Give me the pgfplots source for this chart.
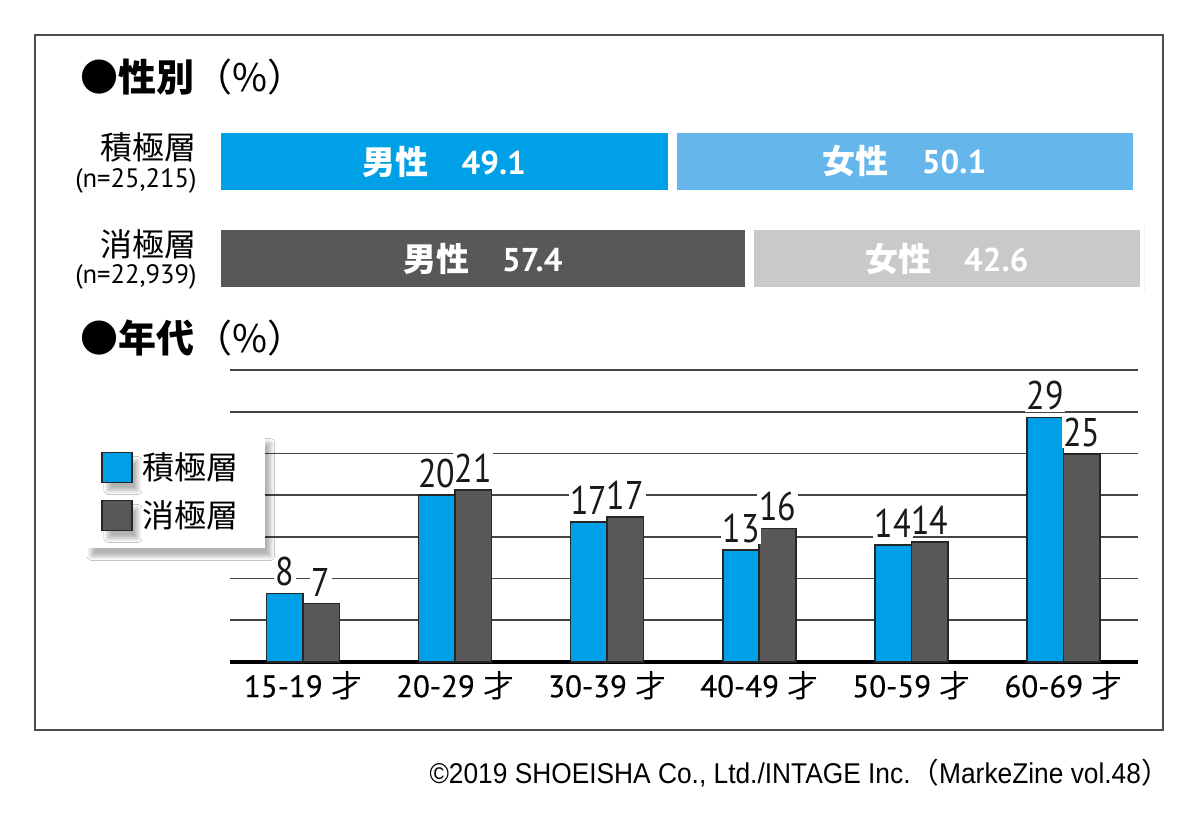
\documentclass[border=0pt]{standalone}
\usepackage{pgfplots}
\pgfplotsset{compat=1.18}
\usepackage{fontspec}
\usetikzlibrary{shadows.blur}
\setmainfont{PT Sans}
\newfontfamily\cjk{Noto Sans CJK JP}
\newfontfamily\cond[FakeStretch=0.85]{PT Sans}
\newfontfamily\tickf[FakeBold=0.4]{PT Sans}
\newfontfamily\credit[FakeStretch=0.92]{Liberation Sans}

\definecolor{cblue}{HTML}{00A0E6}
\definecolor{cltblue}{HTML}{64B6EB}
\definecolor{cdark}{HTML}{595757}
\definecolor{cltgray}{HTML}{C9C9C9}
\definecolor{cgrid}{HTML}{444444}

\begin{document}
\begin{tikzpicture}[x=1pt,y=1pt]
\path[use as bounding box, fill=white] (0,0) rectangle (600,410);
\draw[draw=black!70, line width=1pt] (17.5,45) rectangle (581.5,392.5);

% titles
\node[anchor=west, inner sep=0pt] at (40,371.5) {\cjk\fontsize{19pt}{19pt}\selectfont\bfseries ●性別\mdseries（\%）};
\node[anchor=west, inner sep=0pt] at (40,241) {\cjk\fontsize{19pt}{19pt}\selectfont\bfseries ●年代\mdseries（\%）};

% row labels
\node[anchor=east, inner sep=0pt] at (98.5,336.5) {\cjk\fontsize{16pt}{16pt}\selectfont 積極層};
\node[anchor=east, inner sep=0pt] at (98.5,319.5) {\fontsize{13.3pt}{13.3pt}\selectfont (n=25,215)};
\node[anchor=east, inner sep=0pt] at (98.5,288) {\cjk\fontsize{16pt}{16pt}\selectfont 消極層};
\node[anchor=east, inner sep=0pt] at (98.5,271.5) {\fontsize{13.3pt}{13.3pt}\selectfont (n=22,939)};

\pgfplotsset{
  genderrow/.style={
    scale only axis, width=464pt, height=33pt,
    xmin=0, xmax=100, ymin=-0.5, ymax=0.5,
    hide axis, xbar stacked, bar width=33pt,
    visualization depends on={rawx \as \myx},
    every node near coord/.append style={
      anchor=center, text=white,
      font=\bfseries\fontsize{16.5pt}{16.5pt}\selectfont},
  },
  seg/.style={nodes near coords={{\cjk\bfseries #1}\quad
    \pgfmathprintnumber[fixed,precision=1,zerofill,assume math mode=true]{\myx}}},
}

% 積極層
\begin{axis}[genderrow, at={(108.25pt,329.25pt)}, anchor=west]
\addplot[fill=cblue, draw=white, line width=4.5pt, seg=男性] coordinates {(49.1,0)};
\addplot[fill=cltblue, draw=white, line width=4.5pt, seg=女性] coordinates {(50.1,0)};
\end{axis}

% 消極層
\begin{axis}[genderrow, at={(108.25pt,280.5pt)}, anchor=west]
\addplot[fill=cdark, draw=white, line width=4.5pt, seg=男性] coordinates {(57.4,0)};
\addplot[fill=cltgray, draw=white, line width=4.5pt, seg=女性] coordinates {(42.6,0)};
\end{axis}

% age chart
\begin{axis}[
    at={(115pt,79pt)}, anchor=south west,
    scale only axis, width=454pt, height=146pt,
    xmin=-0.48, xmax=5.49, ymin=0, ymax=35,
    ybar=0pt, bar width=18.25pt,
    axis line style={draw=none},
    xtick=data,
    xticklabels={15-19 {\cjk 才}, 20-29 {\cjk 才}, 30-39 {\cjk 才},
                 40-49 {\cjk 才}, 50-59 {\cjk 才}, 60-69 {\cjk 才}},
    xticklabel style={font=\tickf\fontsize{15.5pt}{15.5pt}\selectfont, yshift=-1pt},
    ytick={5,10,...,35}, yticklabels={},
    major tick length=0pt,
    ymajorgrids, grid style={draw=cgrid, line width=0.8pt},
    extra y ticks={0}, extra y tick labels={},
    extra y tick style={grid style={draw=black, line width=2pt}},
    /pgf/number format/assume math mode=true,
    nodes near coords={\pgfmathprintnumber[fixed,precision=0]{\pgfplotspointmeta}},
    every node near coord/.append style={
      font=\cond\fontsize{20pt}{20pt}\selectfont, fill=white,
      inner sep=0.8pt, yshift=2.5pt, text=black!90},
    legend style={
      at={(axis description cs:-0.16,0.78)}, anchor=north west,
      draw=none, fill=white, inner xsep=8pt, inner ysep=7pt,
      row sep=5pt,
      blur shadow={shadow xshift=3pt, shadow yshift=-4pt, shadow blur steps=8, shadow opacity=30},
      font=\cjk\fontsize{16pt}{16pt}\selectfont,
      nodes={inner xsep=5pt}},
    legend cell align=left,
    legend image code/.code={\draw[#1, line width=0.8pt] (0pt,-7.5pt) rectangle (15pt,7.5pt);},
]
\addplot[fill=cblue, draw=black!85, line width=0.8pt] coordinates {
  (0,8.2) (1,20.0) (2,16.8) (3,13.4) (4,14.0) (5,29.3)
};
\addplot[fill=cdark, draw=black!85, line width=0.8pt] coordinates {
  (0,7.0) (1,20.6) (2,17.4) (3,16.0) (4,14.4) (5,24.9)
};
\legend{積極層, 消極層}
\end{axis}

\node[anchor=east, inner sep=0pt] at (585,23.5) {\credit\fontsize{14.3pt}{14.3pt}\selectfont ©2019 SHOEISHA Co., Ltd./INTAGE Inc.{\cjk （}MarkeZine vol.48{\cjk ）}};
\end{tikzpicture}
\end{document}
